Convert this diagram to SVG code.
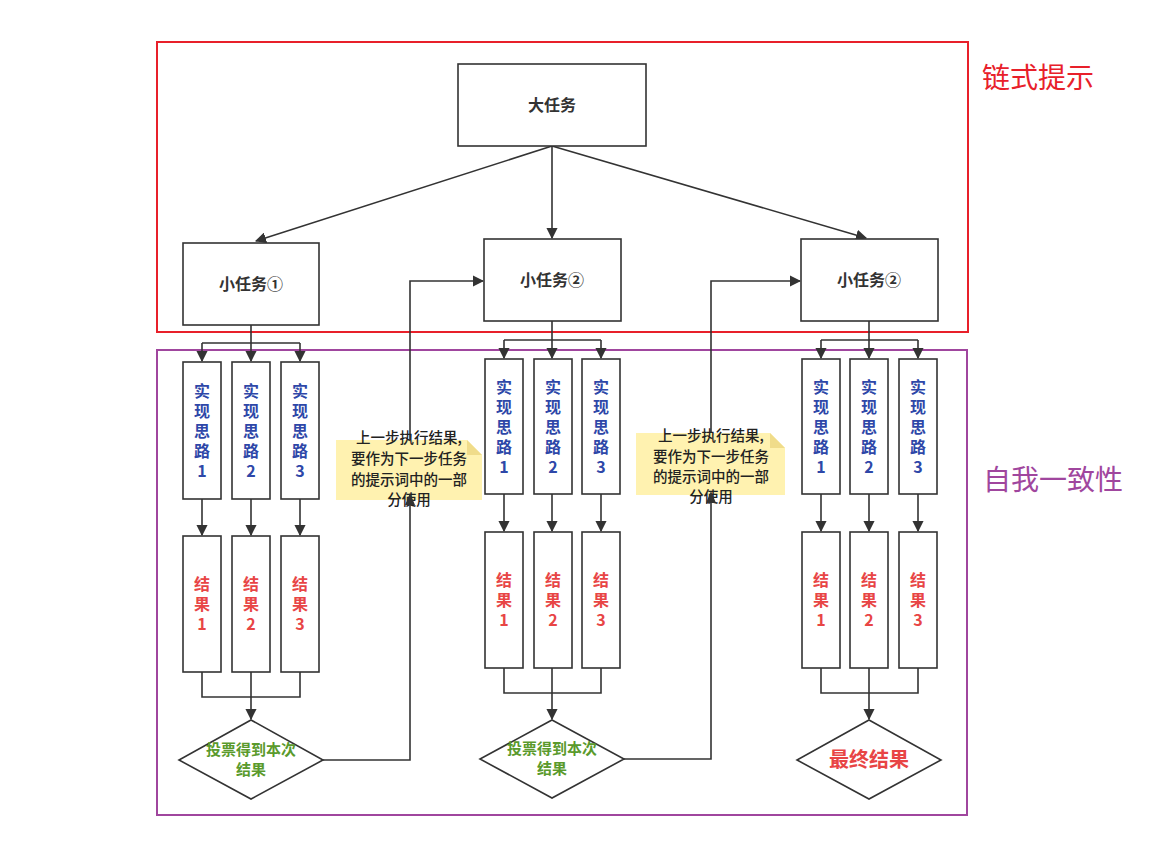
<svg xmlns="http://www.w3.org/2000/svg" width="1149" height="864" viewBox="0 0 1149 864">
<defs>
<marker id="ah" viewBox="0 0 10 10" refX="9" refY="5" markerWidth="7" markerHeight="7" orient="auto"><path d="M0,0 L10,5 L0,10 z" fill="#333"/></marker>
<style>
.b{fill:#fff;stroke:#333;stroke-width:1.6}
.c{fill:none;stroke:#333;stroke-width:1.6}
.t{font-family:"Noto Sans CJK SC","Liberation Sans",sans-serif;text-anchor:middle}
.tb{font-size:16px;font-weight:bold;fill:#333}
.id{font-size:16px;font-weight:bold;fill:#2e47a8}
.rs{font-size:16px;font-weight:bold;fill:#e84545}
.vt{font-size:15px;font-weight:bold;fill:#5a9a2c}
.nt{font-size:14.5px;font-weight:500;fill:#222}
</style>
</defs>
<rect width="1149" height="864" fill="#fff"/>
<rect x="157" y="42" width="811" height="290" fill="none" stroke="#e8202a" stroke-width="2"/>
<rect x="157" y="350" width="810" height="465" fill="none" stroke="#a0469e" stroke-width="2"/>
<text class="t" x="1038" y="88" style="font-size:28px;fill:#e8202a">链式提示</text>
<text class="t" x="1053" y="490" style="font-size:28px;fill:#a0469e">自我一致性</text>
<g id="connectors">
<path class="c" marker-end="url(#ah)" d="M552,146 L256,241"/>
<path class="c" marker-end="url(#ah)" d="M552,146 L552,238"/>
<path class="c" marker-end="url(#ah)" d="M552,146 L866,238"/>
<path class="c" d="M251,325 V343 M202,343 H300"/>
<path class="c" marker-end="url(#ah)" d="M202,343 V361"/><path class="c" marker-end="url(#ah)" d="M251,343 V361"/><path class="c" marker-end="url(#ah)" d="M300,343 V361"/>
<path class="c" marker-end="url(#ah)" d="M202,499 V535"/><path class="c" marker-end="url(#ah)" d="M251,499 V535"/><path class="c" marker-end="url(#ah)" d="M300,499 V535"/>
<path class="c" d="M202,672 V697 H300 V672 M251,672 V697"/>
<path class="c" marker-end="url(#ah)" d="M251,697 V719"/>
<path class="c" marker-end="url(#ah)" d="M323,760 H410 V281 H483"/>
<path class="c" d="M552,321 V340 M504,340 H601"/>
<path class="c" marker-end="url(#ah)" d="M504,340 V358"/><path class="c" marker-end="url(#ah)" d="M552,340 V358"/><path class="c" marker-end="url(#ah)" d="M601,340 V358"/>
<path class="c" marker-end="url(#ah)" d="M504,494 V531"/><path class="c" marker-end="url(#ah)" d="M552,494 V531"/><path class="c" marker-end="url(#ah)" d="M601,494 V531"/>
<path class="c" d="M504,668 V693 H601 V668 M552,668 V693"/>
<path class="c" marker-end="url(#ah)" d="M552,693 V719"/>
<path class="c" marker-end="url(#ah)" d="M624,759 H711 V281 H800"/>
<path class="c" d="M869,321 V340 M821,340 H918"/>
<path class="c" marker-end="url(#ah)" d="M821,340 V358"/><path class="c" marker-end="url(#ah)" d="M869,340 V358"/><path class="c" marker-end="url(#ah)" d="M918,340 V358"/>
<path class="c" marker-end="url(#ah)" d="M821,494 V531"/><path class="c" marker-end="url(#ah)" d="M869,494 V531"/><path class="c" marker-end="url(#ah)" d="M918,494 V531"/>
<path class="c" d="M821,668 V693 H918 V668 M869,668 V693"/>
<path class="c" marker-end="url(#ah)" d="M869,693 V719"/>
</g>
<g id="big"><rect class="b" x="458" y="64" width="188" height="82"/><text class="t tb" x="552" y="111">大任务</text></g>
<g id="sA"><rect class="b" x="183" y="243" width="136" height="82"/><text class="t tb" x="251" y="290">小任务①</text></g>
<g id="sB"><rect class="b" x="484" y="239" width="137" height="82"/><text class="t tb" x="552" y="286">小任务②</text></g>
<g id="sC"><rect class="b" x="801" y="239" width="137" height="82"/><text class="t tb" x="869" y="286">小任务②</text></g>
<g id="ideasA">
<rect class="b" x="183" y="362" width="38" height="137"/><rect class="b" x="232" y="362" width="38" height="137"/><rect class="b" x="281" y="362" width="38" height="137"/>
<text class="t id"><tspan x="202" y="397">实</tspan><tspan x="202" y="417">现</tspan><tspan x="202" y="437">思</tspan><tspan x="202" y="457">路</tspan><tspan x="202" y="477">1</tspan></text>
<text class="t id"><tspan x="251" y="397">实</tspan><tspan x="251" y="417">现</tspan><tspan x="251" y="437">思</tspan><tspan x="251" y="457">路</tspan><tspan x="251" y="477">2</tspan></text>
<text class="t id"><tspan x="300" y="397">实</tspan><tspan x="300" y="417">现</tspan><tspan x="300" y="437">思</tspan><tspan x="300" y="457">路</tspan><tspan x="300" y="477">3</tspan></text>
</g>
<g id="resA">
<rect class="b" x="183" y="536" width="38" height="136"/><rect class="b" x="232" y="536" width="38" height="136"/><rect class="b" x="281" y="536" width="38" height="136"/>
<text class="t rs"><tspan x="202" y="590">结</tspan><tspan x="202" y="610">果</tspan><tspan x="202" y="630">1</tspan></text>
<text class="t rs"><tspan x="251" y="590">结</tspan><tspan x="251" y="610">果</tspan><tspan x="251" y="630">2</tspan></text>
<text class="t rs"><tspan x="300" y="590">结</tspan><tspan x="300" y="610">果</tspan><tspan x="300" y="630">3</tspan></text>
</g>
<g id="ideasB">
<rect class="b" x="485" y="359" width="38" height="135"/><rect class="b" x="534" y="359" width="38" height="135"/><rect class="b" x="582" y="359" width="38" height="135"/>
<text class="t id"><tspan x="504" y="393">实</tspan><tspan x="504" y="413">现</tspan><tspan x="504" y="433">思</tspan><tspan x="504" y="453">路</tspan><tspan x="504" y="473">1</tspan></text>
<text class="t id"><tspan x="553" y="393">实</tspan><tspan x="553" y="413">现</tspan><tspan x="553" y="433">思</tspan><tspan x="553" y="453">路</tspan><tspan x="553" y="473">2</tspan></text>
<text class="t id"><tspan x="601" y="393">实</tspan><tspan x="601" y="413">现</tspan><tspan x="601" y="433">思</tspan><tspan x="601" y="453">路</tspan><tspan x="601" y="473">3</tspan></text>
</g>
<g id="resB">
<rect class="b" x="485" y="532" width="38" height="136"/><rect class="b" x="534" y="532" width="38" height="136"/><rect class="b" x="582" y="532" width="38" height="136"/>
<text class="t rs"><tspan x="504" y="586">结</tspan><tspan x="504" y="606">果</tspan><tspan x="504" y="626">1</tspan></text>
<text class="t rs"><tspan x="553" y="586">结</tspan><tspan x="553" y="606">果</tspan><tspan x="553" y="626">2</tspan></text>
<text class="t rs"><tspan x="601" y="586">结</tspan><tspan x="601" y="606">果</tspan><tspan x="601" y="626">3</tspan></text>
</g>
<g id="ideasC">
<rect class="b" x="802" y="359" width="38" height="135"/><rect class="b" x="850" y="359" width="38" height="135"/><rect class="b" x="899" y="359" width="38" height="135"/>
<text class="t id"><tspan x="821" y="393">实</tspan><tspan x="821" y="413">现</tspan><tspan x="821" y="433">思</tspan><tspan x="821" y="453">路</tspan><tspan x="821" y="473">1</tspan></text>
<text class="t id"><tspan x="869" y="393">实</tspan><tspan x="869" y="413">现</tspan><tspan x="869" y="433">思</tspan><tspan x="869" y="453">路</tspan><tspan x="869" y="473">2</tspan></text>
<text class="t id"><tspan x="918" y="393">实</tspan><tspan x="918" y="413">现</tspan><tspan x="918" y="433">思</tspan><tspan x="918" y="453">路</tspan><tspan x="918" y="473">3</tspan></text>
</g>
<g id="resC">
<rect class="b" x="802" y="532" width="38" height="136"/><rect class="b" x="850" y="532" width="38" height="136"/><rect class="b" x="899" y="532" width="38" height="136"/>
<text class="t rs"><tspan x="821" y="586">结</tspan><tspan x="821" y="606">果</tspan><tspan x="821" y="626">1</tspan></text>
<text class="t rs"><tspan x="869" y="586">结</tspan><tspan x="869" y="606">果</tspan><tspan x="869" y="626">2</tspan></text>
<text class="t rs"><tspan x="918" y="586">结</tspan><tspan x="918" y="606">果</tspan><tspan x="918" y="626">3</tspan></text>
</g>
<g id="voteA"><path class="b" d="M251,720 L323,760 L251,799 L179,760 Z"/><text class="t vt"><tspan x="251" y="755">投票得到本次</tspan><tspan x="251" y="775">结果</tspan></text></g>
<g id="voteB"><path class="b" d="M552,720 L624,759 L552,798 L480,759 Z"/><text class="t vt"><tspan x="552" y="754">投票得到本次</tspan><tspan x="552" y="774">结果</tspan></text></g>
<g id="final"><path class="b" d="M869,720 L941,760 L869,799 L797,760 Z"/><text class="t" x="869" y="767" style="font-size:20px;font-weight:bold;fill:#e84545">最终结果</text></g>
<g id="noteA"><path d="M336,440 H467 L482,455 V500 H336 Z" fill="#fff2b0"/><path d="M467,440 V455 H482" fill="#f0dc8a"/>
<text class="t nt"><tspan x="409" y="443">上一步执行结果,</tspan><tspan x="409" y="464">要作为下一步任务</tspan><tspan x="409" y="485">的提示词中的一部</tspan><tspan x="409" y="505">分使用</tspan></text>
<path d="M410,493 L405,505 L415,505 Z" fill="#333"/></g>
<g id="noteB"><path d="M636,433 H770 L785,448 V495 H636 Z" fill="#fff2b0"/><path d="M770,433 V448 H785" fill="#f0dc8a"/>
<text class="t nt"><tspan x="711" y="441">上一步执行结果,</tspan><tspan x="711" y="462">要作为下一步任务</tspan><tspan x="711" y="482">的提示词中的一部</tspan><tspan x="711" y="502">分使用</tspan></text>
<path d="M711,491 L706,503 L716,503 Z" fill="#333"/></g>
</svg>
